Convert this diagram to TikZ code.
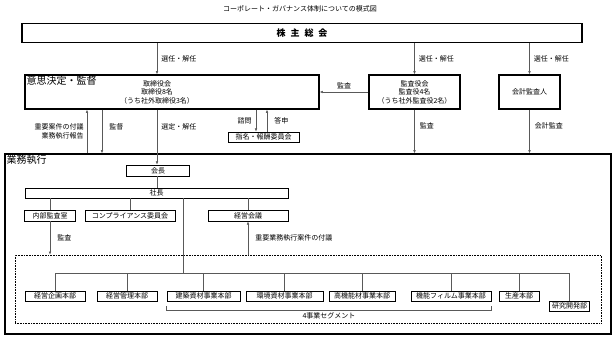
\documentclass[tikz,border=0pt]{standalone}
\usepackage{fontspec}
\setmainfont{Noto Sans CJK JP}
\usetikzlibrary{arrows.meta, positioning, shadows}
\newcommand\fsmall{\fontsize{7}{8.5}\selectfont}
\newcommand\fhead{\fontsize{10}{12}\selectfont}

\begin{document}
\begin{tikzpicture}[x=1pt, y=-1pt,
  big/.style={draw, line width=1.3pt, inner sep=0pt},
  box/.style={draw, line width=0.7pt, inner sep=0pt, minimum height=11pt,
              font=\fsmall, fill=white},
  unit/.style={box, minimum height=10pt,
               drop shadow={shadow xshift=0.8pt, shadow yshift=-0.8pt, fill=black!50}},
  arrow/.style={-{Latex[length=3.2pt, width=2.6pt]}, draw=black!65, line width=0.55pt},
  link/.style={draw=black!65, line width=0.55pt},
  lbl/.style={font=\fsmall, inner sep=1pt},
  head/.style={font=\fhead, inner sep=2pt, anchor=north west},
]
\useasboundingbox (0,0) rectangle (615,339);

\node[font=\fsmall] (title) at (300,9) {コーポレート・ガバナンス体制についての模式図};

\node[big, minimum width=560pt, minimum height=19pt, font=\fontsize{9}{10}\selectfont\bfseries]
  (soukai) at (302,33) {株\hspace{5pt}主\hspace{5pt}総\hspace{5pt}会};

\node[big, minimum width=294pt, minimum height=34pt] (kettei) at (172,92) {};
\node[head] (ketteilbl) at (kettei.north west) {意思決定・監督};
\node[lbl, align=center] (torishimari) at (157,92) {取締役会\\取締役8名\\（うち社外取締役3名）};

\node[big, minimum width=91pt, minimum height=34pt, align=center, font=\fsmall]
  (kansa) at (414.5,92) {監査役会\\監査役4名\\（うち社外監査役2名）};

\node[big, minimum width=61pt, minimum height=34pt, font=\fsmall] (kaikei) at (529.5,92) {会計監査人};

\node[box, minimum width=71pt, minimum height=10pt] (shimei) at (263.5,137) {指名・報酬委員会};

\node[big, minimum width=606pt, minimum height=180pt] (gyomu) at (308,244) {};
\node[head] (gyomulbl) at (gyomu.north west) {業務執行};

\node[box, minimum width=63pt] (kaicho) at (158,170.5) {会長};
\node[box, minimum width=263pt, minimum height=10pt] (shacho) at (156.5,193) {社長};
\node[box, minimum width=51pt] (naibu) at (50,215.5) {内部監査室};
\node[box, minimum width=90pt] (compliance) at (130,215.5) {コンプライアンス委員会};
\node[box, minimum width=80pt] (kaigi) at (248,215.5) {経営会議};

\node[draw, densely dotted, line width=0.6pt, minimum width=586pt, minimum height=68pt]
  (seg) at (308,289) {};

\foreach \name/\x/\w/\txt in {keikaku/55/60/経営企画本部, kanri/127/60/経営管理本部,
    kenchiku/203.5/73/建築資材事業本部, kankyo/284.5/77/環境資材事業本部,
    koukinou/362/66/高機能材事業本部, film/451/80/機能フィルム事業本部, seisan/519/40/生産本部}
  \node[unit, minimum width=\w pt] (\name) at (\x,296) {\txt};
\node[unit, minimum width=40pt] (kenkyu) at (569.5,306) {研究開発部};

\coordinate (xrep) at (87,0);
\coordinate (xsup) at (102,0);
\coordinate (xsel) at (157,0);
\coordinate (xbus) at (183,0);
\coordinate (xask) at (256,0);
\coordinate (xans) at (267,0);
\coordinate (bus)  at (0,273);
\coordinate (brk)  at (0,310);

% ---- 株主総会から ----
\draw[arrow] (soukai.south -| xsel) -- (kettei.north -| xsel) node[lbl, midway, right=3pt] {選任・解任};
\draw[arrow] (soukai.south -| kansa) -- (kansa.north) node[lbl, midway, right=3pt] {選任・解任};
\draw[arrow] (soukai.south -| kaikei) -- (kaikei.north) node[lbl, midway, right=3pt] {選任・解任};
\draw[arrow] (kansa.west) -- (kansa.west -| kettei.east) node[lbl, midway, above=2pt] {監査};

% ---- 取締役会と業務執行 ----
\draw[arrow] (xrep |- gyomu.north) -- (xrep |- kettei.south)
  node[lbl, midway, left=2pt, align=right] {重要案件の付議\\業務執行報告};
\draw[arrow] (xsup |- kettei.south) -- (xsup |- gyomu.north) node[lbl, pos=0.4, right=6pt] {監督};
\draw[arrow] (kettei.south -| xsel) -- (kaicho.north -| xsel) node[lbl, pos=0.32, right=3pt] {選定・解任};
\draw[arrow] (kettei.south -| xask) -- (shimei.north -| xask) node[lbl, midway, left=3pt] {諮問};
\draw[arrow] (shimei.north -| xans) -- (kettei.south -| xans) node[lbl, midway, right=6pt] {答申};
\draw[arrow] (kansa.south) -- (gyomu.north -| kansa) node[lbl, pos=0.38, right=4pt] {監査};
\draw[arrow] (kaikei.south) -- (gyomu.north -| kaikei) node[lbl, pos=0.38, right=4pt] {会計監査};

% ---- 業務執行の中 ----
\draw[link] (kaicho.south -| xsel) -- (shacho.north -| xsel);
\draw[link] (shacho.south -| naibu) -- (naibu.north);
\draw[link] (shacho.south -| compliance) -- (compliance.north);
\draw[link] (shacho.south -| kaigi) -- (kaigi.north);
\draw[link] (shacho.south -| xbus) -- (xbus |- bus);
\draw[arrow] (naibu.south) -- (seg.north -| naibu) node[lbl, midway, right=6pt] {監査};
\draw[arrow] (seg.north -| kaigi) -- (kaigi.south) node[lbl, midway, right=6pt] {重要業務執行案件の付議};

\draw[link] (keikaku.north |- bus) -- (kenkyu.north |- bus);
\foreach \name in {keikaku, kanri, kenchiku, kankyo, koukinou, film, seisan, kenkyu}
  \draw[link] (\name.north |- bus) -- (\name.north);

\draw[link] ([yshift=-5pt]kenchiku.south west) -- (kenchiku.west |- brk)
  -| node[lbl, pos=0.25, below=1pt] {4事業セグメント} ([yshift=-5pt]film.south east);

\end{tikzpicture}
\end{document}
